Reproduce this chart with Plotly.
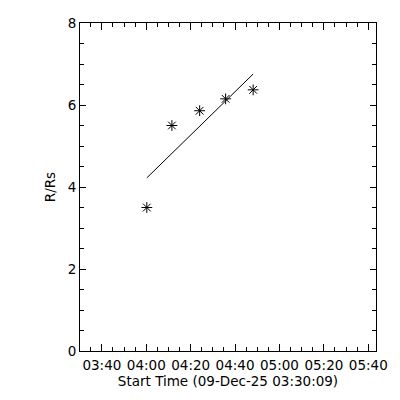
import numpy as np
import pandas as pd
import plotly.graph_objects as go

start_time = "2025-12-09 03:30:09"
times = ["2025-12-09 04:00:15", "2025-12-09 04:11:33", "2025-12-09 04:24:03",
         "2025-12-09 04:35:45", "2025-12-09 04:48:09"]
r_rs = [3.50, 5.50, 5.86, 6.15, 6.37]
x_range = ["2025-12-09 03:30:09", "2025-12-09 05:43:29"]
y_range = [0, 8]
x_title = "Start Time (09-Dec-25 03:30:09)"
y_title = "R/Rs"

t = pd.to_datetime(times)
t0 = pd.to_datetime(start_time)
secs = np.array([(ti - t0).total_seconds() for ti in t])
coef = np.polyfit(secs, r_rs, 1)
fit_secs = np.array([secs.min(), secs.max()])
fit_y = np.polyval(coef, fit_secs)
fit_t = [t0 + pd.Timedelta(seconds=float(s)) for s in fit_secs]

font = dict(family="DejaVu Sans", size=13.5, color="black")

fig = go.Figure()
fig.add_trace(go.Scatter(x=fit_t, y=fit_y, mode="lines",
                         line=dict(color="black", width=1), hoverinfo="skip"))
fig.add_trace(go.Scatter(x=t, y=r_rs, mode="markers",
                         marker=dict(symbol="asterisk-open", size=9, color="black",
                                     line=dict(color="black", width=1))))

fig.update_layout(
    width=392, height=392,
    margin=dict(l=72, r=24, t=15, b=49, autoexpand=False),
    paper_bgcolor="white", plot_bgcolor="white",
    showlegend=False, font=font,
)
fig.update_xaxes(
    type="date", range=x_range, tickformat="%H:%M",
    tick0="2025-12-09 03:40:00", dtick=20 * 60 * 1000,
    ticks="inside", ticklen=7, tickwidth=1, tickcolor="black",
    minor=dict(ticks="inside", ticklen=4, dtick=5 * 60 * 1000,
               tick0="2025-12-09 03:40:00", tickcolor="black", showgrid=False),
    showline=True, linecolor="black", linewidth=1, mirror="allticks",
    showgrid=False, zeroline=False, ticklabelstandoff=2,
    title=dict(text=x_title, font=font, standoff=2),
    tickfont=font,
)
fig.update_yaxes(
    range=y_range, dtick=2, tick0=0,
    ticks="inside", ticklen=6, tickwidth=1, tickcolor="black",
    minor=dict(ticks="inside", ticklen=4, dtick=0.5, tickcolor="black", showgrid=False),
    showline=True, linecolor="black", linewidth=1, mirror="allticks",
    showgrid=False, zeroline=False,
    title=dict(text=y_title, font=font, standoff=8),
    tickfont=font,
)
fig.write_html("out.html")
